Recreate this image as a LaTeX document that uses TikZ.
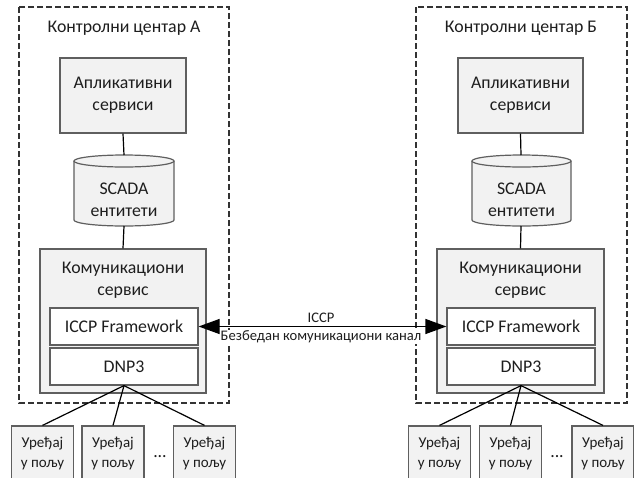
\documentclass[tikz,border=0pt]{standalone}
\usepackage{fontspec}
\setmainfont{Carlito}
\usetikzlibrary{arrows.meta}
\definecolor{boxfill}{RGB}{242,242,242}
\definecolor{boxline}{RGB}{95,95,95}
\definecolor{ink}{RGB}{30,30,30}
\tikzset{
  gbox/.style={draw=boxline, fill=boxfill, line width=1.2pt, inner sep=0pt, align=center,
    text=ink, font=\fontsize{17.8}{22}\selectfont},
  wbox/.style={draw=boxline, fill=white, line width=1.2pt, inner sep=0pt, align=center,
    text=ink, font=\fontsize{17.8}{22}\selectfont},
  devbox/.style={draw=boxline, fill=boxfill, line width=1.2pt, inner sep=0pt, align=center,
    text=ink, minimum width=62pt, minimum height=54pt, font=\fontsize{15}{20}\selectfont},
  txt/.style={inner sep=0pt, align=center, text=ink, font=\fontsize{17.8}{22}\selectfont},
  center/.style={draw=black!80, dash pattern=on 6pt off 3pt, line width=1.3pt},
  conn/.style={draw=black, line width=1.2pt},
  cyl/.style={draw=boxline, fill=boxfill, line width=1.2pt},
  lbl/.style={inner sep=1pt, text=ink, font=\fontsize{14.6}{16}\selectfont},
}
\begin{document}
\begin{tikzpicture}[x=1pt, y=-1pt]
\clip (0,0) rectangle (634,477);
\fill[white] (0,0) rectangle (634,477);

% control centers
\draw[center] (19,7) rectangle (229,403);
\draw[center] (416,7) rectangle (627,403);
\node[txt] (titleA) at (124,28) {Контролни центар А};
\node[txt] (titleB) at (521,28) {Контролни центар Б};

% application services
\node[gbox, minimum width=126pt, minimum height=75pt] (appA) at (123,95.5) {Апликативни\\сервиси};
\node[gbox, minimum width=125pt, minimum height=75pt] (appB) at (520.5,95.5) {Апликативни\\сервиси};

% SCADA cylinders
\path[cyl] (74,161) -- (74,220) arc[start angle=180, end angle=360, x radius=50pt, y radius=6pt] -- (174,161);
\path[cyl] (124,161) ellipse[x radius=50pt, y radius=6pt];
\coordinate (cylAtop) at (124,155);
\coordinate (cylAbot) at (124,226);
\node[txt] (scadaA) at (124,200) {SCADA\\ентитети};

\path[cyl] (472,161) -- (472,220) arc[start angle=180, end angle=360, x radius=49.5pt, y radius=6pt] -- (571,161);
\path[cyl] (521.5,161) ellipse[x radius=49.5pt, y radius=6pt];
\coordinate (cylBtop) at (521,155);
\coordinate (cylBbot) at (521,226);
\node[txt] (scadaB) at (521.5,200) {SCADA\\ентитети};

% communication services
\node[gbox, minimum width=166pt, minimum height=144pt] (commA) at (123,321) {};
\node[txt] (commtA) at (123,280) {Комуникациони\\сервис};
\node[gbox, minimum width=167pt, minimum height=144pt] (commB) at (520.5,321) {};
\node[txt] (commtB) at (520.5,280) {Комуникациони\\сервис};

\node[wbox, minimum width=148pt, minimum height=37pt] (iccpA) at (124,326.5) {ICCP Framework};
\node[wbox, minimum width=148pt, minimum height=37pt] (dnpA) at (124,366.5) {DNP3};
\node[wbox, minimum width=148pt, minimum height=37pt] (iccpB) at (521,326.5) {ICCP Framework};
\node[wbox, minimum width=148pt, minimum height=37pt] (dnpB) at (521,366.5) {DNP3};

% vertical connectors
\draw[conn] (appA.south) -- (cylAtop);
\draw[conn] (cylAbot) -- (commA.north);
\draw[conn] (appB.south) -- (cylBtop);
\draw[conn] (cylBbot) -- (commB.north);

% ICCP link
\draw[conn, {Triangle[length=21pt,width=15pt]}-{Triangle[length=21pt,width=15pt]}] (iccpA.east) -- (iccpB.west);
\node[lbl] (iccplbl) at (321,318) {ICCP};
\node[lbl, fill=white] (chanlbl) at (321,337) {Безбедан комуникациони канал};

% field devices A
\node[devbox] (devA1) at (42.5,453) {Уређај\\у пољу};
\node[devbox] (devA2) at (113,453) {Уређај\\у пољу};
\node[devbox] (devA3) at (204.5,453) {Уређај\\у пољу};
\node[txt] (dotsA) at (160,457) {...};
\draw[conn] (dnpA.south) -- (devA1.north);
\draw[conn] (dnpA.south) -- (devA2.north);
\draw[conn] (dnpA.south) -- (devA3.north);

% field devices B
\node[devbox] (devB1) at (439.5,453) {Уређај\\у пољу};
\node[devbox] (devB2) at (510.5,453) {Уређај\\у пољу};
\node[devbox] (devB3) at (603,453) {Уређај\\у пољу};
\node[txt] (dotsB) at (557,457) {...};
\draw[conn] (dnpB.south) -- (devB1.north);
\draw[conn] (dnpB.south) -- (devB2.north);
\draw[conn] (dnpB.south) -- (devB3.north);
\end{tikzpicture}
\end{document}
